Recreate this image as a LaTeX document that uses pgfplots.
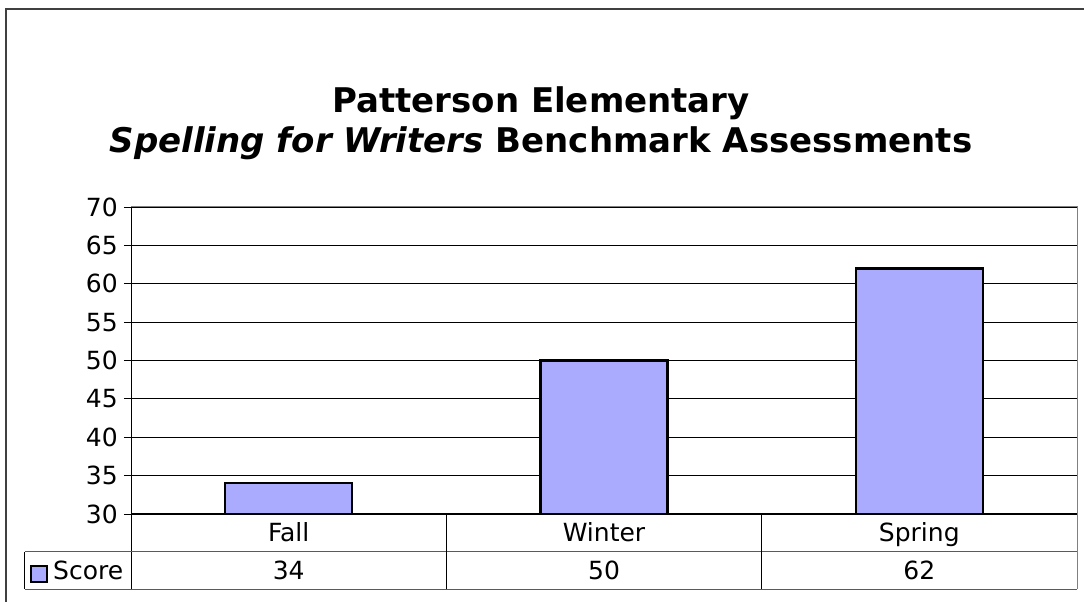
\documentclass[border=0pt]{standalone}
\usepackage{pgfplots}
\pgfplotsset{compat=1.18}
\usepackage{fontspec}
\setmainfont{DejaVu Sans}
\definecolor{barfill}{HTML}{AAAAFF}
\definecolor{framegray}{HTML}{808080}
\begin{document}
\begin{tikzpicture}[x=1pt,y=1pt]
\useasboundingbox (-131,-88) rectangle (953,514);
\begin{axis}[
  at={(0,0)}, anchor=south west,
  scale only axis,
  width=946pt, height=307pt,
  xmin=-0.5, xmax=2.5,
  ymin=30, ymax=70,
  ytick={30,35,...,70},
  xtick=\empty,
  axis line style={draw=none},
  ymajorgrids,
  grid style={black, line width=0.8pt},
  tick style={black, line width=0.8pt},
  major tick length=7pt,
  ytick pos=left,
  tick align=outside,
  yticklabel style={font=\fontsize{25}{28}\selectfont, inner sep=0pt, xshift=-6pt},
  /pgf/number format/assume math mode=true,
  ybar, bar width=127pt,
]
\addplot[fill=barfill, draw=black, line width=2.2pt] coordinates {(0,34) (1,50) (2,62)};
\end{axis}
% plot border
\draw[framegray, line width=1pt] (0,307) -- (946,307) -- (946,0);
\draw[black, line width=1pt] (0,307) -- (0,-75);
\draw[black, line width=1pt] (0,0) -- (946,0);
% data table
\draw[framegray!70!black, line width=1pt] (-106,-38) -- (946,-38);
\draw[framegray!70!black, line width=1pt] (-106,-75) -- (946,-75);
\draw[black, line width=1pt] (-106,-38) -- (-106,-75);
\draw[black, line width=1pt] (315.3,0) -- (315.3,-75);
\draw[black, line width=1pt] (630.7,0) -- (630.7,-75);
\draw[framegray, line width=1pt] (946,0) -- (946,-75);
\begin{scope}[every node/.style={font=\fontsize{25}{28}\selectfont, anchor=base, inner sep=0pt}]
\node at (157.7,-28) {Fall};
\node at (473,-28) {Winter};
\node at (788.3,-28) {Spring};
\node at (157.7,-66) {34};
\node at (473,-66) {50};
\node at (788.3,-66) {62};
\node[anchor=base west] at (-78,-66) {Score};
\end{scope}
\draw[black, line width=1.5pt, fill=barfill] (-100,-68) rectangle (-84,-52);
% outer frame
\draw[framegray!50!black, line width=2pt] (-125,-88) -- (-125,505) -- (953,505);
% title
\node[font=\fontsize{34}{40}\selectfont\bfseries, anchor=base] at (410,401) {Patterson Elementary};
\node[font=\fontsize{34}{40}\selectfont\bfseries, anchor=base] at (410,361) {\textit{Spelling for Writers} Benchmark Assessments};
\end{tikzpicture}
\end{document}
